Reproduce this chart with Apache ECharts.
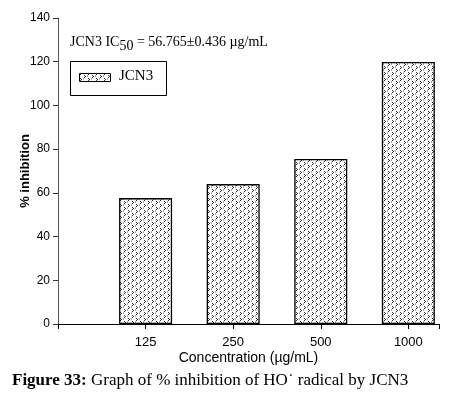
<!DOCTYPE html>
<html><head><meta charset="utf-8">
<script src="https://cdn.jsdelivr.net/npm/echarts@6/dist/echarts.min.js"></script>
<style>html,body{margin:0;padding:0;background:#fff}#c{width:458px;height:395px}</style>
</head><body><div id="c"></div>
<script>
const categories = ['125', '250', '500', '1000'];
const inhibition = [57.6, 64.0, 75.5, 119.9];
const yTicks = [0, 20, 40, 60, 80, 100, 120, 140];
const seriesName = 'JCN3';
const annotation = 'JCN3 IC';
const annotationRest = ' = 56.765±0.436 µg/mL';
const xTitle = 'Concentration (µg/mL)';
const yTitle = '% inhibition';

function makePattern() {
  const c = document.createElement('canvas');
  c.width = 8; c.height = 6;
  const g = c.getContext('2d');
  g.fillStyle = '#fff'; g.fillRect(0, 0, 8, 6);
  g.fillStyle = '#333';
  g.fillRect(0, 0, 1, 1); g.fillRect(1, 1, 1, 1); g.fillRect(0, 2, 1, 1);
  g.fillRect(4, 3, 1, 1); g.fillRect(5, 4, 1, 1); g.fillRect(4, 5, 1, 1);
  g.fillStyle = '#aaa';
  g.fillRect(3, 0, 1, 2); g.fillRect(7, 3, 1, 2);
  return c;
}
const pattern = makePattern();

const chart = echarts.init(document.getElementById('c'), null, {renderer: 'canvas'});
chart.setOption({
  animation: false,
  grid: {left: 58, right: 19, top: 18, bottom: 71, containLabel: false},
  xAxis: {
    type: 'value', min: 0, max: 4.35, interval: 1,
    name: xTitle, nameLocation: 'middle', nameGap: 27, nameMoveOverlap: false,
    nameTextStyle: {fontFamily: 'Liberation Sans', fontSize: 14, color: '#000'},
    axisLine: {show: true, lineStyle: {color: '#000', width: 1}},
    axisTick: {show: true, inside: false, length: 5, lineStyle: {color: '#000'}},
    axisLabel: {fontFamily: 'Liberation Sans', fontSize: 13, color: '#000', margin: 12,
      formatter: v => (v >= 1 && v <= categories.length ? categories[v - 1] : '')},
    splitLine: {show: false}
  },
  yAxis: {
    type: 'value', min: yTicks[0], max: yTicks[yTicks.length - 1], interval: 20,
    name: yTitle, nameLocation: 'middle', nameGap: 26, nameMoveOverlap: false,
    nameTextStyle: {fontFamily: 'Liberation Sans', fontSize: 13, fontWeight: 'bold', color: '#000'},
    axisLine: {show: true, lineStyle: {color: '#555', width: 1}},
    axisTick: {show: true, length: 5, lineStyle: {color: '#333'}},
    axisLabel: {fontFamily: 'Liberation Sans', fontSize: 12, color: '#000', margin: 8},
    splitLine: {show: false}
  },
  series: [{
    name: seriesName, type: 'bar', barWidth: 53,
    data: inhibition.map((v, i) => [i + 1, v]),
    itemStyle: {color: {image: pattern, repetition: 'repeat'}, borderColor: '#000', borderWidth: 1.3}
  }],
  graphic: [
    {type: 'text', left: 70, top: 35, style: {
      text: '{a|' + annotation + '}{s|50}{a|' + annotationRest + '}',
      rich: {a: {fontFamily: 'Liberation Serif', fontSize: 14, fill: '#000'},
             s: {fontFamily: 'Liberation Serif', fontSize: 14, fill: '#000', padding: [9, 0, 0, 0]}}
    }},
    {type: 'rect', shape: {x: 70.5, y: 61.5, width: 96, height: 34}, style: {fill: 'none', stroke: '#000', lineWidth: 1}},
    {type: 'rect', shape: {x: 79.5, y: 73.5, width: 31, height: 8}, style: {fill: {image: pattern, repetition: 'repeat'}, stroke: '#000', lineWidth: 1}},
    {type: 'text', left: 119, top: 69, style: {text: seriesName, font: '15px "Liberation Serif"', fill: '#000'}},
    {type: 'text', left: 12, top: 372, style: {
      text: '{b|Figure 33:}{r| Graph of % inhibition of HO˙ radical by JCN3}',
      rich: {b: {fontFamily: 'Liberation Serif', fontSize: 17, fontWeight: 'bold', fill: '#000'},
             r: {fontFamily: 'Liberation Serif', fontSize: 17, fill: '#000'}}
    }}
  ]
});
</script></body></html>
